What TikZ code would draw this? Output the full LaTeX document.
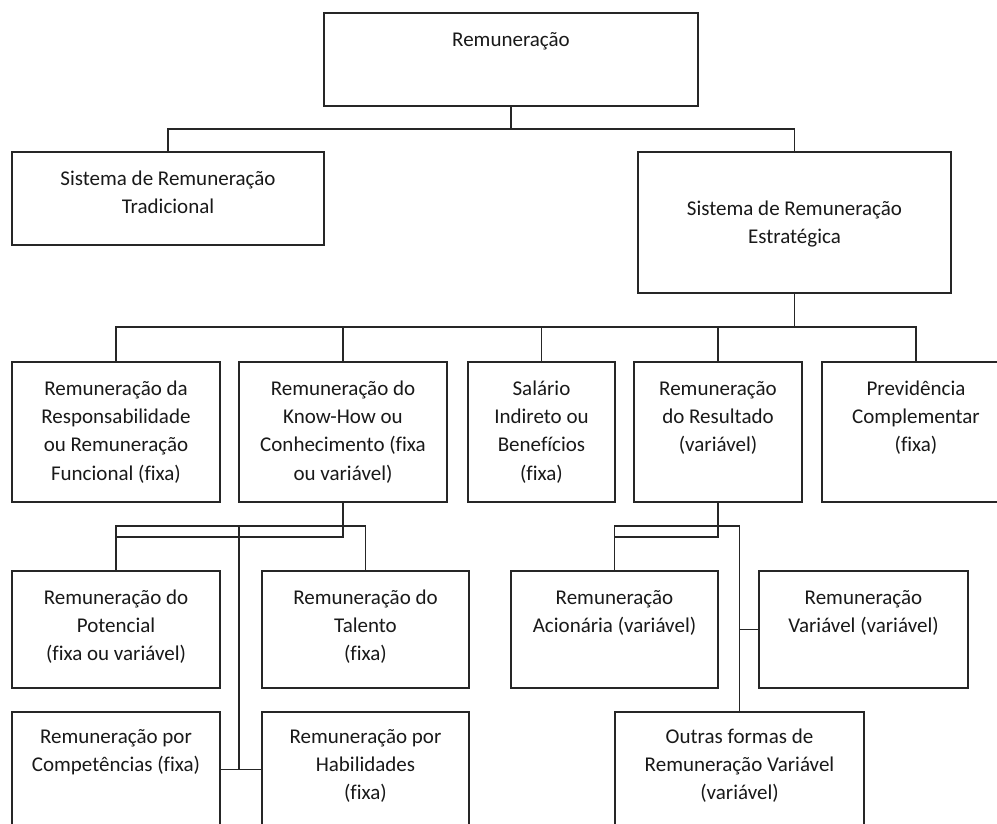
\documentclass[tikz,border=0pt]{standalone}
\usepackage{fontspec}
\setmainfont{Carlito}[Ligatures=CommonOff]
\begin{document}
\begin{tikzpicture}[x=1pt,y=-1pt,
  box/.style={draw=black!85, line width=1.4pt, rectangle, inner sep=0pt, outer sep=0pt},
  txt/.style={anchor=north, align=center, inner sep=0pt, text=black!90,
    font=\fontsize{21pt}{28.3pt}\selectfont},
  conn/.style={draw=black!85, line width=1.4pt}]
\useasboundingbox (0,0) rectangle (997,823);
\fill[white] (0,0) rectangle (997,823);
\clip (0,0) rectangle (997,823);
\newcommand{\fl}{\rule{0pt}{18pt}}
% level 1
\node[box, minimum width=374pt, minimum height=93pt] (rem) at (511,59.5) {};
\node[txt] at ([yshift=-15pt]rem.north) {\fl Remuneração};
% level 2
\node[box, minimum width=312pt, minimum height=93pt] (trad) at (168,198.5) {};
\node[txt] at ([yshift=-15pt]trad.north) {\fl Sistema de Remuneração\\Tradicional};
\node[box, minimum width=313pt, minimum height=141pt] (estr) at (794.5,222.5) {};
\node[txt] at ([yshift=-45pt]estr.north) {\fl Sistema de Remuneração\\Estratégica};
% level 3
\node[box, minimum width=208pt, minimum height=140pt] (resp) at (116,432) {};
\node[txt] at ([yshift=-15pt]resp.north) {\fl Remuneração da\\Responsabilidade\\ou Remuneração\\Funcional (fixa)};
\node[box, minimum width=208pt, minimum height=140pt] (know) at (343,432) {};
\node[txt] at ([yshift=-15pt]know.north) {\fl Remuneração do\\Know-How ou\\Conhecimento (fixa\\ou variável)};
\node[box, minimum width=147pt, minimum height=140pt] (sal) at (541.5,432) {};
\node[txt] at ([yshift=-15pt]sal.north) {\fl Salário\\Indireto ou\\Benefícios\\(fixa)};
\node[box, minimum width=168pt, minimum height=140pt] (res) at (718,432) {};
\node[txt] at ([yshift=-15pt]res.north) {\fl Remuneração\\do Resultado\\(variável)};
\node[box, minimum width=188pt, minimum height=140pt] (prev) at (916,432) {};
\node[txt] at ([yshift=-15pt]prev.north) {\fl Previdência\\Complementar\\(fixa)};
% level 4
\node[box, minimum width=208pt, minimum height=117pt] (pot) at (116,629.5) {};
\node[txt] at ([yshift=-15pt]pot.north) {\fl Remuneração do\\Potencial\\(fixa ou variável)};
\node[box, minimum width=207pt, minimum height=117pt] (tal) at (365.5,629.5) {};
\node[txt] at ([yshift=-15pt]tal.north) {\fl Remuneração do\\Talento\\(fixa)};
\node[box, minimum width=207pt, minimum height=117pt] (acio) at (614.5,629.5) {};
\node[txt] at ([yshift=-15pt]acio.north) {\fl Remuneração\\Acionária (variável)};
\node[box, minimum width=209pt, minimum height=117pt] (var) at (863.5,629.5) {};
\node[txt] at ([yshift=-15pt]var.north) {\fl Remuneração\\Variável (variável)};
% level 5
\node[box, minimum width=208pt, minimum height=115pt] (comp) at (116,769.5) {};
\node[txt] at ([yshift=-13pt]comp.north) {\fl Remuneração por\\Competências (fixa)};
\node[box, minimum width=207pt, minimum height=115pt] (hab) at (365.5,769.5) {};
\node[txt] at ([yshift=-13pt]hab.north) {\fl Remuneração por\\Habilidades\\(fixa)};
\node[box, minimum width=249pt, minimum height=115pt] (outr) at (739.5,769.5) {};
\node[txt] at ([yshift=-13pt]outr.north) {\fl Outras formas de\\Remuneração Variável\\(variável)};
% connectors
\coordinate (b1) at (511,129);
\draw[conn] (rem.south) -- (b1);
\draw[conn] (b1) -| (trad.north);
\draw[conn] (b1) -| (estr.north);
\coordinate (b2) at (794.5,327);
\draw[conn] (estr.south) -- (b2);
\draw[conn] (b2) -| (resp.north);
\draw[conn] (b2) -| (know.north);
\draw[conn] (b2) -| (sal.north);
\draw[conn] (b2) -| (res.north);
\draw[conn] (b2) -| (prev.north);
% know-how branch
\coordinate (k1) at (343,537);
\draw[conn] (know.south) -- (k1) -| (pot.north);
\coordinate (k2) at (116,526);
\draw[conn] (pot.north) -- (k2) -| (tal.north);
\coordinate (k3) at (239,526);
\draw[conn] (k3) -- (k3 |- comp.east);
\draw[conn] (comp.east) -- (hab.west);
% result branch
\coordinate (r1) at (718,537);
\draw[conn] (res.south) -- (r1) -| (acio.north);
\coordinate (r2) at (614.5,526);
\draw[conn] (acio.north) -- (r2) -| (outr.north);
\draw[conn] (outr.north |- var.west) -- (var.west);
\end{tikzpicture}
\end{document}
